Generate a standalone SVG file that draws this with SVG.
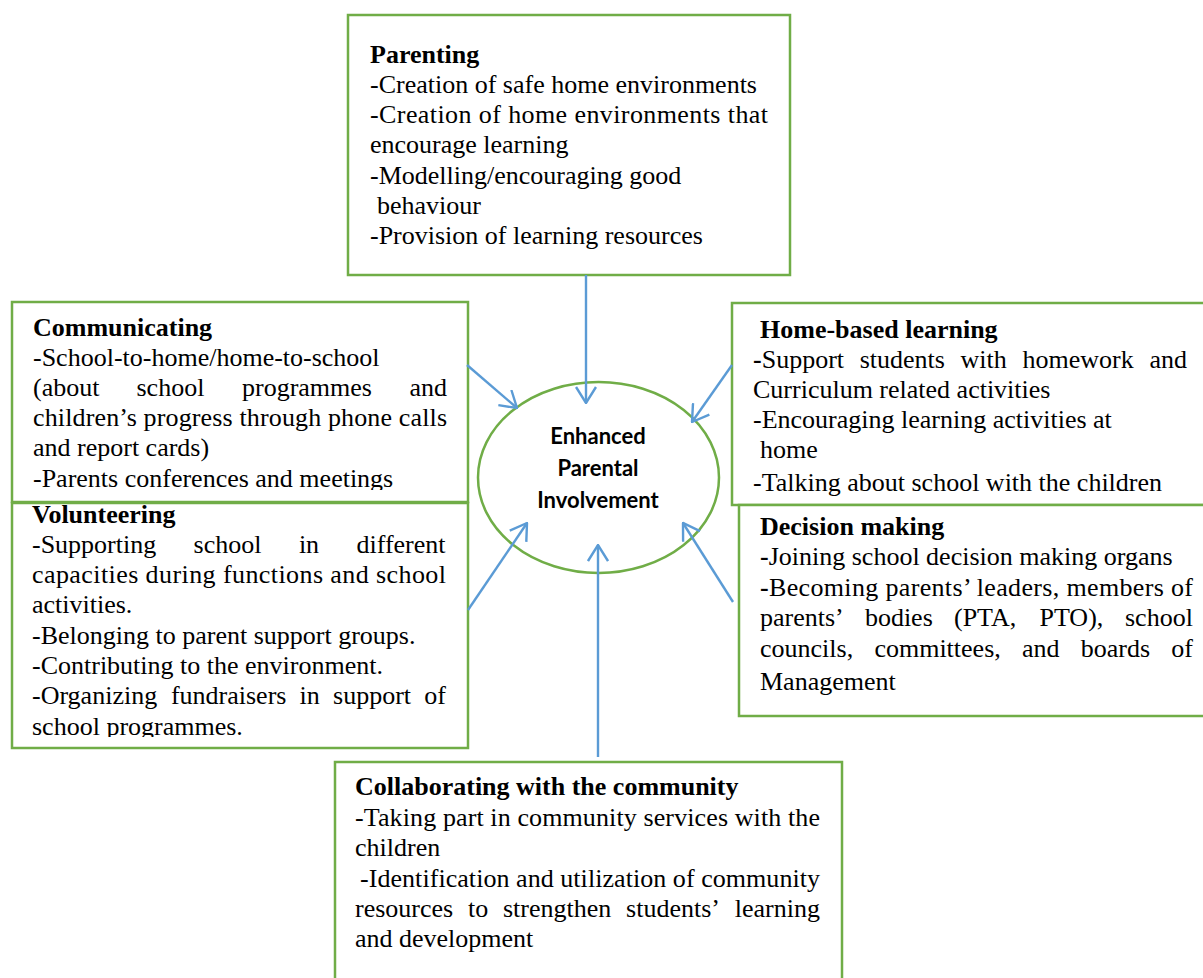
<svg xmlns="http://www.w3.org/2000/svg" width="1203" height="978" viewBox="0 0 1203 978">
  <style>
    .box { fill: #ffffff; stroke: #70AD47; stroke-width: 2.5; }
    .t { font-family: "Liberation Serif", "Times New Roman", serif; font-size: 26px; fill: #000000; }
    .h { font-weight: bold; }
    .c { font-family: Lato, "Open Sans", "Liberation Sans", sans-serif; font-size: 22px; font-weight: bold; fill: #000000; text-anchor: middle; }
    .arr { stroke: #5B9BD5; stroke-width: 2.4; fill: none; marker-end: url(#head); }
  </style>
  <defs>
    <marker id="head" viewBox="0 0 18 22" refX="17" refY="11" markerWidth="18" markerHeight="22" markerUnits="userSpaceOnUse" orient="auto">
      <path d="M1,1 L17,11 L1,21" fill="none" stroke="#5B9BD5" stroke-width="2.4"/>
    </marker>
    <clipPath id="clipComm"><rect x="12" y="302" width="456" height="188"/></clipPath>
    <clipPath id="clipVol"><rect x="12" y="503" width="456" height="234"/></clipPath>
  </defs>

  <rect width="1203" height="978" fill="#ffffff"/>

  <!-- Parenting -->
  <g id="parenting">
    <rect class="box" x="348" y="15" width="442" height="260"/>
    <text class="t h" x="370" y="63">Parenting</text>
    <text class="t" x="370" y="93">-Creation of safe home environments</text>
    <text class="t" x="370" y="123" textLength="398" lengthAdjust="spacing">-Creation of home environments that</text>
    <text class="t" x="370" y="153">encourage learning</text>
    <text class="t" x="370" y="184">-Modelling/encouraging good</text>
    <text class="t" x="377" y="214">behaviour</text>
    <text class="t" x="370" y="244">-Provision of learning resources</text>
  </g>

  <!-- Communicating -->
  <g id="communicating">
    <rect class="box" x="12" y="302" width="456" height="200"/>
    <g clip-path="url(#clipComm)">
      <text class="t h" x="33" y="336">Communicating</text>
      <text class="t" x="33" y="366">-School-to-home/home-to-school</text>
      <text class="t" y="396"><tspan x="33">(about</tspan><tspan x="136.5">school</tspan><tspan x="242">programmes</tspan><tspan x="409.5">and</tspan></text>
      <text class="t" x="33" y="426" textLength="414" lengthAdjust="spacing">children’s progress through phone calls</text>
      <text class="t" x="33" y="456">and report cards)</text>
      <text class="t" x="33" y="487">-Parents conferences and meetings</text>
    </g>
  </g>

  <!-- Volunteering -->
  <g id="volunteering">
    <rect class="box" x="12" y="503" width="456" height="245"/>
    <g clip-path="url(#clipVol)">
      <text class="t h" x="32" y="523">Volunteering</text>
      <text class="t" y="553"><tspan x="32">-Supporting</tspan><tspan x="193.6">school</tspan><tspan x="298.9">in</tspan><tspan x="356.5">different</tspan></text>
      <text class="t" x="32" y="583" textLength="414" lengthAdjust="spacing">capacities during functions and school</text>
      <text class="t" x="32" y="613">activities.</text>
      <text class="t" x="32" y="644">-Belonging to parent support groups.</text>
      <text class="t" x="32" y="674">-Contributing to the environment.</text>
      <text class="t" y="704"><tspan x="32">-Organizing</tspan><tspan x="170.9">fundraisers</tspan><tspan x="299.6">in</tspan><tspan x="333.1">support</tspan><tspan x="424.3">of</tspan></text>
      <text class="t" x="32" y="735">school programmes.</text>
    </g>
  </g>

  <!-- Home-based learning -->
  <g id="home-based-learning">
    <rect class="box" x="732" y="303" width="500" height="202"/>
    <text class="t h" x="760" y="338">Home-based learning</text>
    <text class="t" y="368"><tspan x="753" font-weight="bold">-</tspan><tspan>Support</tspan><tspan x="859.7">students</tspan><tspan x="960.6">with</tspan><tspan x="1022.5">homework</tspan><tspan x="1149.4">and</tspan></text>
    <text class="t" x="753" y="398">Curriculum related activities</text>
    <text class="t" x="753" y="428">-Encouraging learning activities at</text>
    <text class="t" x="760" y="458">home</text>
    <text class="t" x="753" y="491">-Talking about school with the children</text>
  </g>

  <!-- Decision making -->
  <g id="decision-making">
    <rect class="box" x="739" y="505" width="500" height="211"/>
    <text class="t h" x="760" y="535">Decision making</text>
    <text class="t" x="760" y="565"><tspan font-weight="bold">-</tspan>Joining school decision making organs</text>
    <text class="t" x="760" y="596" textLength="433" lengthAdjust="spacing"><tspan font-weight="bold">-</tspan>Becoming parents’ leaders, members of</text>
    <text class="t" y="626"><tspan x="760">parents’</tspan><tspan x="864.9">bodies</tspan><tspan x="954">(PTA,</tspan><tspan x="1039.5">PTO),</tspan><tspan x="1125">school</tspan></text>
    <text class="t" y="657"><tspan x="760">councils,</tspan><tspan x="874.4">committees,</tspan><tspan x="1022">and</tspan><tspan x="1080.7">boards</tspan><tspan x="1171.2">of</tspan></text>
    <text class="t" x="760" y="690">Management</text>
  </g>

  <!-- Collaborating with the community -->
  <g id="collaborating">
    <rect class="box" x="335" y="762" width="507" height="240"/>
    <text class="t h" x="355" y="795">Collaborating with the community</text>
    <text class="t" x="355" y="826" textLength="465" lengthAdjust="spacing">-Taking part in community services with the</text>
    <text class="t" x="355" y="856">children</text>
    <text class="t" x="360" y="887" textLength="460" lengthAdjust="spacing">-Identification and utilization of community</text>
    <text class="t" y="917"><tspan x="355">resources</tspan><tspan x="468">to</tspan><tspan x="503">strengthen</tspan><tspan x="626.1">students’</tspan><tspan x="734.8">learning</tspan></text>
    <text class="t" x="355" y="947">and development</text>
  </g>

  <!-- Central outcome -->
  <g id="outcome">
    <ellipse cx="598.5" cy="477.5" rx="120.5" ry="95.5" fill="#ffffff" stroke="#70AD47" stroke-width="2.5"/>
    <text class="c" x="598" y="444">Enhanced</text>
    <text class="c" x="598" y="476">Parental</text>
    <text class="c" x="598" y="508">Involvement</text>
  </g>

  <!-- Connectors -->
  <g id="connectors">
    <line class="arr" x1="586" y1="275" x2="586" y2="403"/>
    <line class="arr" x1="467" y1="365" x2="517" y2="408"/>
    <line class="arr" x1="732" y1="365" x2="692" y2="422"/>
    <line class="arr" x1="468" y1="610" x2="527" y2="523"/>
    <line class="arr" x1="598" y1="757" x2="598" y2="545"/>
    <line class="arr" x1="733" y1="602" x2="683" y2="523"/>
  </g>
</svg>
